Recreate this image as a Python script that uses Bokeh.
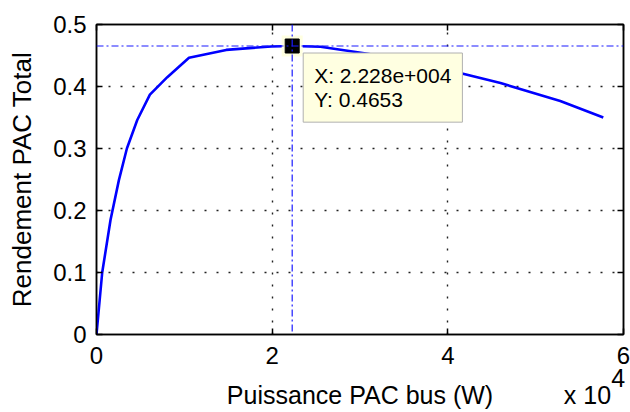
from bokeh.plotting import figure
from bokeh.models import (LinearAxis, FixedTicker, Label, Span, ColumnDataSource)
from bokeh.embed import file_html
from bokeh.resources import INLINE

# ---- data ----
power_w = [0, 650, 1600, 2550, 3460, 4640, 6080, 8060, 10530, 14770, 19890,
           22280, 25500, 30870, 36000, 41500, 46000, 52800, 57700]
rendement = [0, 0.100, 0.185, 0.249, 0.300, 0.346, 0.387, 0.415, 0.4465, 0.459, 0.4646,
             0.4653, 0.4640, 0.4529, 0.4400, 0.4215, 0.4056, 0.3767, 0.350]
x_ticks = [0, 20000, 40000, 60000]
x_tick_labels = ["0", "2", "4", "6"]
y_ticks = [0, 0.1, 0.2, 0.3, 0.4, 0.5]
y_tick_labels = ["0", "0.1", "0.2", "0.3", "0.4", "0.5"]
tip_x = 22280
tip_y = 0.4653
tip_text = "X: 2.228e+004\nY: 0.4653"
x_label = "Puissance PAC bus (W)"
y_label = "Rendement PAC Total"
# second row below the x axis: x label, and the "x 10^4" multiplier
row2_pos = [30000, 55900, 59400]
row2_text = [" \n" + x_label, " \nx 10", "4\n "]

FONT = "Liberation Sans"

p = figure(width=630, height=412, x_range=(0, 60000), y_range=(0, 0.5),
           output_backend="svg", toolbar_location=None,
           min_border_left=96, min_border_right=7, min_border_top=24, min_border_bottom=77)
p.background_fill_color = "white"
p.border_fill_color = "white"
p.outline_line_color = "black"
p.outline_line_width = 1.5

xt = FixedTicker(ticks=x_ticks)
yt = FixedTicker(ticks=y_ticks)

def style_axis(ax, ticker, labels, show_labels=True):
    ax.ticker = ticker
    ax.major_tick_in = 6
    ax.major_tick_out = 0
    ax.minor_tick_in = 0
    ax.minor_tick_out = 0
    ax.axis_line_color = "black"
    ax.axis_line_width = 1.5
    ax.major_tick_line_color = "black"
    ax.major_tick_line_width = 1.5
    ax.major_label_text_font = FONT
    if show_labels:
        ax.major_label_overrides = {t: l for t, l in zip(ticker.ticks, labels)}
        ax.major_label_text_font_size = "24px"
        ax.major_label_text_color = "black"
    else:
        ax.major_label_text_font_size = "0px"
        ax.major_label_text_color = None

style_axis(p.xaxis[0], xt, x_tick_labels)
style_axis(p.yaxis[0], yt, y_tick_labels)
p.xaxis[0].major_label_standoff = 12
p.yaxis[0].major_label_standoff = 10

yax = p.yaxis[0]
yax.axis_label = y_label
yax.axis_label_text_font = FONT
yax.axis_label_text_font_size = "26px"
yax.axis_label_text_font_style = "normal"
yax.axis_label_text_color = "black"
yax.axis_label_standoff = 13

# second row of text under the x axis (x label and multiplier)
row2 = LinearAxis(ticker=FixedTicker(ticks=row2_pos))
row2.major_label_overrides = {t: l for t, l in zip(row2_pos, row2_text)}
row2.axis_line_color = None
row2.major_tick_line_color = None
row2.major_tick_in = 0
row2.major_tick_out = 0
row2.minor_tick_in = 0
row2.minor_tick_out = 0
row2.major_label_standoff = -3
row2.major_label_text_font = FONT
row2.major_label_text_font_size = "25px"
row2.major_label_text_line_height = 0.64
row2.major_label_text_color = "black"
p.add_layout(row2, "below")

top_ax = LinearAxis()
style_axis(top_ax, xt, x_tick_labels, show_labels=False)
p.add_layout(top_ax, "above")
right_ax = LinearAxis()
style_axis(right_ax, yt, y_tick_labels, show_labels=False)
p.add_layout(right_ax, "right")

for g in (p.xgrid[0], p.ygrid[0]):
    g.grid_line_color = "#222222"
    g.grid_line_width = 1.4
    g.grid_line_dash = "2 10"
p.xgrid[0].ticker = xt
p.ygrid[0].ticker = yt

src = ColumnDataSource(data=dict(x=power_w, y=rendement))
p.line("x", "y", source=src, line_color="#0000ff", line_width=2.6)

# crosshair of the data tip
dashdot = "7 3 2 3"
p.add_layout(Span(location=tip_y, dimension="width", line_color="#1a1aff",
                  line_width=1.2, line_dash=dashdot))
p.add_layout(Span(location=tip_x, dimension="height", line_color="#1a1aff",
                  line_width=1.2, line_dash=dashdot))

# data tip marker
p.scatter([tip_x], [tip_y], marker="square", size=21, fill_color="#ffffe1",
          line_color=None)
p.scatter([tip_x], [tip_y], marker="square", size=14, fill_color="black",
          line_color="black")

p.add_layout(Label(x=tip_x, y=tip_y, x_offset=11, y_offset=-7, text=tip_text,
                   text_font=FONT, text_font_size="21px", text_color="black",
                   text_align="left", text_baseline="top", text_line_height=1.05,
                   background_fill_color="#ffffe1", border_line_color="#b0b0b0",
                   border_line_width=1, padding=11))

open("out.html", "w").write(file_html(p, INLINE))
